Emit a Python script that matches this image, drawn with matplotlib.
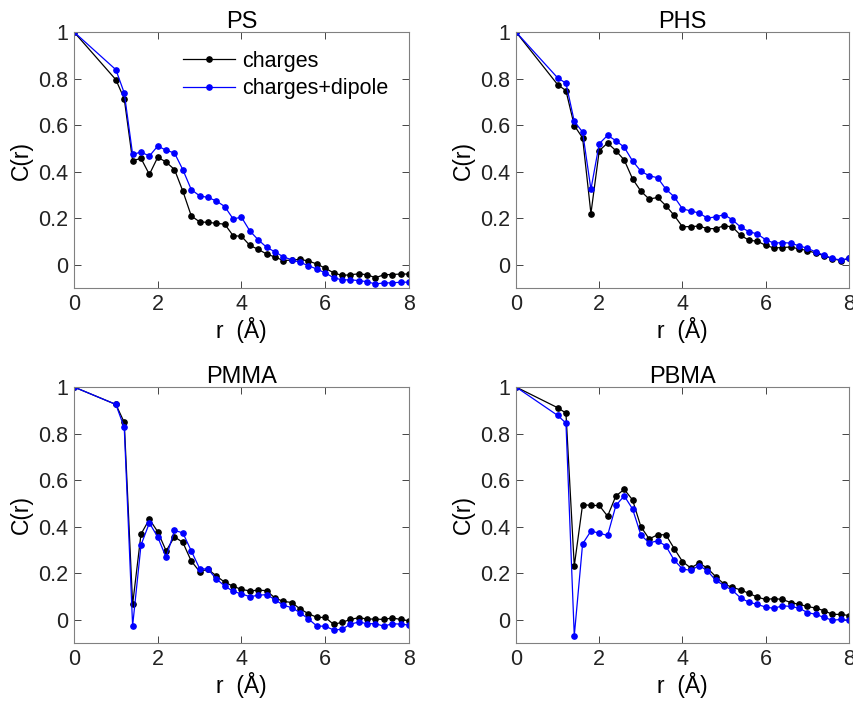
import numpy as np
import matplotlib
matplotlib.use('Agg')
import matplotlib.pyplot as plt

plt.rcParams['font.family'] = ['Liberation Sans', 'DejaVu Sans']
plt.rcParams['font.size'] = 15

# r grid (Angstrom): 0 then 1.0 .. 8.0 in 0.2 steps
r = [0.0] + [round(1.0 + 0.2 * i, 1) for i in range(36)]

ps_charges = [1.0, 0.795, 0.713, 0.447, 0.457, 0.388, 0.462, 0.441, 0.409, 0.316, 0.210,
              0.184, 0.182, 0.178, 0.174, 0.125, 0.122, 0.083, 0.066, 0.046, 0.033, 0.018,
              0.020, 0.023, 0.016, 0.003, -0.015, -0.035, -0.046, -0.043, -0.039, -0.043,
              -0.056, -0.043, -0.042, -0.040, -0.040]
ps_dipole = [1.0, 0.838, 0.738, 0.474, 0.484, 0.467, 0.510, 0.492, 0.480, 0.408, 0.323,
             0.296, 0.289, 0.274, 0.250, 0.197, 0.204, 0.145, 0.107, 0.075, 0.055, 0.034,
             0.021, 0.010, -0.004, -0.019, -0.035, -0.056, -0.065, -0.065, -0.068, -0.073,
             -0.083, -0.078, -0.078, -0.075, -0.075]

phs_charges = [1.0, 0.774, 0.748, 0.598, 0.545, 0.220, 0.490, 0.523, 0.490, 0.450, 0.369,
               0.316, 0.282, 0.289, 0.254, 0.212, 0.163, 0.164, 0.166, 0.155, 0.155, 0.168,
               0.162, 0.126, 0.105, 0.101, 0.083, 0.072, 0.074, 0.076, 0.068, 0.061, 0.050,
               0.039, 0.026, 0.018, 0.027]
phs_dipole = [1.0, 0.803, 0.780, 0.616, 0.570, 0.324, 0.520, 0.556, 0.533, 0.505, 0.446,
              0.402, 0.382, 0.374, 0.325, 0.292, 0.240, 0.231, 0.222, 0.200, 0.206, 0.215,
              0.193, 0.161, 0.142, 0.132, 0.107, 0.093, 0.095, 0.093, 0.081, 0.071, 0.055,
              0.041, 0.027, 0.020, 0.027]

pmma_charges = [1.0, 0.925, 0.848, 0.066, 0.368, 0.432, 0.378, 0.296, 0.356, 0.332, 0.252,
                0.207, 0.217, 0.188, 0.161, 0.144, 0.130, 0.124, 0.127, 0.125, 0.093, 0.079,
                0.074, 0.046, 0.026, 0.010, 0.010, -0.020, -0.011, 0.001, 0.009, 0.003, 0.003,
                0.001, 0.008, 0.001, -0.004]
pmma_dipole = [1.0, 0.925, 0.826, -0.026, 0.321, 0.416, 0.355, 0.268, 0.384, 0.373, 0.296,
               0.220, 0.217, 0.175, 0.145, 0.122, 0.111, 0.099, 0.105, 0.108, 0.086, 0.062,
               0.052, 0.030, 0.003, -0.027, -0.028, -0.044, -0.041, -0.019, -0.010, -0.017,
               -0.017, -0.028, -0.017, -0.019, -0.023]

pbma_charges = [1.0, 0.911, 0.888, 0.231, 0.495, 0.491, 0.491, 0.445, 0.532, 0.560, 0.515,
                0.400, 0.347, 0.365, 0.365, 0.306, 0.250, 0.222, 0.244, 0.221, 0.185, 0.153,
                0.139, 0.128, 0.113, 0.097, 0.087, 0.091, 0.087, 0.074, 0.066, 0.057, 0.050,
                0.039, 0.023, 0.023, 0.018]
pbma_dipole = [1.0, 0.878, 0.845, -0.069, 0.326, 0.381, 0.372, 0.362, 0.491, 0.532, 0.476,
               0.364, 0.330, 0.339, 0.317, 0.256, 0.218, 0.212, 0.233, 0.210, 0.169, 0.147,
               0.126, 0.093, 0.075, 0.066, 0.054, 0.049, 0.060, 0.057, 0.050, 0.031, 0.023,
               0.010, -0.002, 0.001, -0.002]

panels = [('PS', ps_charges, ps_dipole),
          ('PHS', phs_charges, phs_dipole),
          ('PMMA', pmma_charges, pmma_dipole),
          ('PBMA', pbma_charges, pbma_dipole)]

W, H = 854, 704
fig = plt.figure(figsize=(W / 100, H / 100), dpi=100)

# axes boxes in pixels: left, top, right, bottom
boxes = [(74, 32, 409, 288), (516, 32, 849, 288),
         (74, 387, 409, 643), (516, 387, 849, 643)]

edge = '#262626'
for (name, yc, yd), (l, t, rr, b) in zip(panels, boxes):
    ax = fig.add_axes([l / W, (H - b) / H, (rr - l) / W, (b - t) / H])
    ax.plot(r, yc, color='black', lw=0.9, marker='o', ms=3.8, label='charges')
    ax.plot(r, yd, color='#0000ff', lw=0.9, marker='o', ms=3.8, label='charges+dipole')
    ax.set_xlim(0, 8)
    ax.set_ylim(-0.1, 1)
    ax.set_xticks([0, 2, 4, 6, 8])
    ax.set_xticklabels(['0', '2', '4', '6', '8'])
    ax.set_yticks([0, 0.2, 0.4, 0.6, 0.8, 1.0])
    ax.set_yticklabels(['0', '0.2', '0.4', '0.6', '0.8', '1'])
    ax.tick_params(direction='in', top=True, right=True, length=5, width=0.6,
                   colors=edge, labelcolor='#222222', labelsize=15.5, pad=4)
    for s in ax.spines.values():
        s.set_color('#808080')
        s.set_linewidth(0.8)
    ax.set_title(name, fontsize=17, pad=3)
    ax.set_xlabel('r  (Å)', fontsize=16.5, labelpad=2)
    ax.set_ylabel('C(r)', fontsize=16.5, labelpad=4)
    if name == 'PS':
        ax.legend(loc='upper left', bbox_to_anchor=(0.30, 0.96), frameon=False,
                  fontsize=15.5, handlelength=2.4, handletextpad=0.35,
                  labelspacing=0.3, borderaxespad=0)

fig.savefig('out.png', dpi=100)
